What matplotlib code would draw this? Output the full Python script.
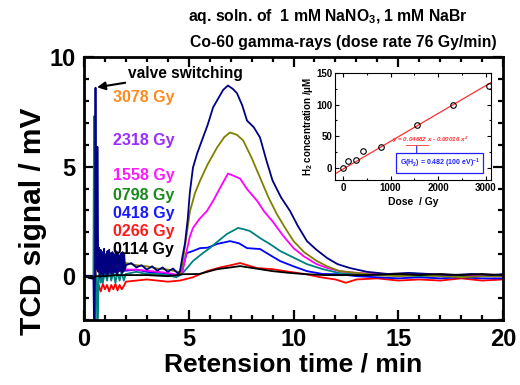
import matplotlib
matplotlib.use('Agg')
import matplotlib.pyplot as plt
from matplotlib.ticker import MultipleLocator

plt.rcParams['font.family'] = ['Liberation Sans', 'DejaVu Sans']
plt.rcParams['font.weight'] = 'bold'
plt.rcParams['mathtext.default'] = 'regular'

# chromatograms (time / min, TCD signal / mV)
t_3078 = [0, 0.3, 0.45, 0.48, 0.52, 0.55, 0.58, 0.62, 0.64, 0.68,
          0.72, 0.76, 0.80, 0.84, 0.88, 0.92, 0.96, 1.00, 1.04, 1.08, 1.12,
          1.16, 1.20, 1.24, 1.28, 1.32, 1.36, 1.40, 1.44, 1.48, 1.52, 1.56,
          1.60, 1.64, 1.68, 1.72, 1.76, 1.80, 1.84, 1.88, 1.92, 1.96,
          2.0, 2.25, 2.5, 2.75, 3.0, 3.25, 3.5, 3.75, 4.0, 4.25, 4.5, 4.58,
          4.7, 4.82, 4.95, 5.05, 5.2, 5.4, 5.68, 5.9, 6.16, 6.4, 6.64, 6.87,
          7.1, 7.3, 7.55, 7.78, 8.1, 8.4, 8.7, 9.0, 9.4, 9.83, 10.2, 10.64,
          11.1, 11.6, 12.1, 12.7, 13.5, 14.5, 15.5, 16.5, 17.5, 18.5, 19.5, 20]
y_3078 = [0.05, -0.1, 0.0, -2.2, -2.2, 8.6, 0.5, 0.3, 5.9, 0.2,
          1.3, -0.05, 1.2, 0.1, 1.1, 0.0, 1.25, 0.15, 1.0, 0.05, 1.15,
          0.1, 1.2, 0.2, 1.05, 0.1, 1.1, 0.15, 1.0, 0.2, 1.15, 0.1,
          1.1, 0.2, 0.95, 0.25, 1.05, 0.15, 1.1, 0.2, 1.0, 0.3,
          0.5, 0.6, 0.4, 0.5, 0.3, 0.45, 0.25, 0.4, 0.2, 0.35, 0.1, 0.23,
          0.9, 1.5, 2.6, 3.8, 4.95, 5.6, 6.33, 6.9, 7.7, 8.1, 8.5, 8.7,
          8.55, 8.35, 7.8, 7.1, 6.8, 6.33, 5.3, 4.36, 3.6, 2.98, 2.3, 1.6,
          1.2, 0.83, 0.55, 0.37, 0.2, 0.1, 0.15, 0.1, 0.05, 0.1, 0.05, 0.1]

t_2318 = [0, 0.4, 0.55, 0.6, 0.65, 0.7, 0.8, 1.0, 1.2, 1.5, 1.8, 2.0, 2.5,
          3.0, 3.5, 4.0, 4.5, 4.6, 4.74, 4.9, 5.06, 5.3, 5.54, 5.9, 6.35,
          6.7, 6.97, 7.3, 7.6, 8.0, 8.4, 8.8, 9.2, 9.6, 10.0, 10.5, 11.1,
          11.6, 12.2, 13.0, 14, 15, 16, 17, 18, 19, 20]
y_2318 = [0, -0.1, 0, 2.1, 0.8, 1.0, 0.8, 0.9, 0.7, 0.8, 0.7, 0.6, 0.5,
          0.45, 0.35, 0.3, 0.2, 0.1, 0.83, 1.9, 2.98, 3.8, 4.36, 5.1, 5.87,
          6.35, 6.56, 6.45, 6.19, 5.4, 4.5, 3.6, 2.84, 2.2, 1.6, 1.1, 0.7,
          0.45, 0.23, 0.15, 0.05, 0.0, 0.05, 0.0, -0.05, 0.0, 0.0]

t_1558 = [0, 0.4, 0.55, 0.6, 0.65, 0.7, 0.75, 0.85, 1.0, 1.5, 2.0, 2.5,
          3.0, 3.5, 4.0, 4.5, 4.7, 4.9, 5.05, 5.2, 5.5, 5.87, 6.2, 6.5,
          6.87, 7.1, 7.45, 7.8, 8.26, 8.6, 9.0, 9.5, 10.0, 10.5, 11.1,
          11.6, 12.2, 13, 14, 16, 18, 20]
y_1558 = [0, -0.1, 0, 1.3, 0.9, 1.3, 0.5, 0.3, 0.2, 0.2, 0.3, 0.3,
          0.25, 0.2, 0.15, 0.05, 0.2, 1.15, 1.8, 2.2, 2.6, 2.98, 3.5, 4.04,
          4.68, 4.6, 4.45, 3.95, 3.44, 2.95, 2.5, 1.85, 1.28, 0.9, 0.55,
          0.38, 0.23, 0.15, 0.1, 0.05, 0.05, 0.05]

t_0798 = [0, 0.4, 0.45, 0.48, 0.52, 0.6, 0.63, 0.66, 0.7, 0.75, 0.8, 0.85,
          0.9, 1.0, 1.1, 1.2, 1.3, 1.4, 1.5, 1.6, 1.7, 1.8, 1.9, 2.0, 2.5,
          3.0, 3.5, 4.0, 4.4, 4.66, 4.9, 5.2, 5.6, 6.0, 6.4, 6.83, 7.35,
          7.6, 7.92, 8.4, 8.9, 9.36, 10.0, 10.64, 11.4, 12.2, 13, 14, 15,
          16, 17, 18, 19, 20]
y_0798 = [0, -0.1, 0, 7.3, 0.2, 0.0, -2.2, -2.2, 0.0, 0.2, -0.3, 0.3,
          -0.3, 0.2, -0.2, 0.3, -0.2, 0.2, -0.3, 0.2, -0.2, 0.2, -0.2, 0.1, 0.2,
          0.1, 0.1, 0.05, -0.05, 0.09, 0.35, 0.69, 1.0, 1.28, 1.6, 1.93, 2.2,
          2.15, 2.06, 1.74, 1.45, 1.15, 0.85, 0.55, 0.32, 0.14, 0.1, 0.05, 0.05,
          0.0, 0.05, 0.0, 0.05, 0.0]

t_0418 = [0, 0.4, 0.55, 0.6, 0.65, 0.7, 0.8, 1.0, 1.5, 2.0, 2.5, 3.0, 3.5,
          4.0, 4.5, 4.7, 4.9, 5.2, 5.54, 5.9, 6.35, 6.97, 7.4, 7.78, 8.4,
          8.9, 9.36, 10.0, 10.64, 11.4, 12.2, 13, 14, 15, 16, 17, 18, 19, 20]
y_0418 = [0, -0.1, 0, 2.5, 0.6, 0.4, 0.3, 0.2, 0.3, 0.25, 0.3, 0.2, 0.15,
          0.1, 0.0, 0.3, 1.05, 1.15, 1.28, 1.3, 1.47, 1.6, 1.5, 1.28, 1.24,
          0.95, 0.69, 0.45, 0.23, 0.1, 0.09, 0.0, -0.05, -0.1, -0.05, -0.1,
          -0.05, -0.1, -0.1]

t_0266 = [0, 0.4, 0.55, 0.6, 0.65, 0.7, 0.8, 0.9, 1.0, 1.1, 1.2, 1.3, 1.4,
          1.5, 1.6, 1.7, 1.8, 1.9, 2.0, 2.5, 3.0, 3.5, 4.0, 4.58, 5.2, 5.87,
          6.5, 7.0, 7.45, 7.8, 8.26, 9.0, 9.8, 10.6, 11.3, 12.0, 12.5, 13.0,
          14, 15, 16, 17, 18, 19, 20]
y_0266 = [0, -0.1, 0, -0.3, -0.6, -0.4, -0.7, -0.35, -0.6, -0.4, -0.7,
          -0.4, -0.6, -0.35, -0.65, -0.4, -0.6, -0.45, -0.25, -0.2, -0.15,
          -0.2, -0.25, -0.2, -0.05, 0.23, 0.4, 0.5, 0.6, 0.5, 0.37, 0.32,
          0.2, 0.09, -0.05, -0.15, -0.3, -0.15, -0.1, -0.2, -0.15, -0.2,
          -0.1, -0.2, -0.15]

t_0114 = [0, 0.4, 0.6, 0.7, 1.0, 1.5, 2.0, 3.0, 4.0, 4.74, 5.5, 6.35, 7.0,
          7.45, 8.2, 9.0, 9.8, 10.6, 11.5, 12.5, 13.5, 15, 16, 17, 18, 19, 20]
y_0114 = [0, -0.1, 0.0, 0.0, 0.0, 0.05, 0.05, 0.05, 0.0, 0.09, 0.1, 0.32,
          0.4, 0.46, 0.35, 0.23, 0.15, 0.09, 0.05, 0.05, 0.05, 0.1, 0.05,
          0.1, 0.05, 0.1, 0.05]

dose_labels = ['3078 Gy', '2318 Gy', '1558 Gy', '0798 Gy', '0418 Gy',
               '0266 Gy', '0114 Gy']
label_colors = ['#ff8a1f', '#9a2cff', '#ff1aff', '#1a8a1a', '#1a1aff',
                '#ff1a1a', '#000000']
label_y = [8.17, 6.19, 4.59, 3.67, 2.84, 2.06, 1.24]

# inset: H2 concentration vs dose
dose = [0, 114, 266, 418, 798, 1558, 2318, 3078]
h2_conc = [0, 10, 12, 26, 32, 68, 100, 130]
fit_x = [-170, 3110]
fit_y = [-10, 135]

fig = plt.figure(figsize=(5.2, 3.85), dpi=100)
ax = fig.add_axes([0.1615, 0.1688, 0.806, 0.683])

curves = [
    (t_0266, y_0266, '#ff0000'),
    (t_0418, y_0418, '#0000ff'),
    (t_0798, y_0798, '#008080'),
    (t_1558, y_1558, '#ff00ff'),
    (t_2318, y_2318, '#808000'),
    (t_3078, y_3078, '#000080'),
    (t_0114, y_0114, '#000000'),
]
for t, y, c in curves:
    ax.plot(t, y, color=c, lw=1.3)

ax.set_xlim(0, 20)
ax.set_ylim(-2, 10)
ax.xaxis.set_major_locator(MultipleLocator(5))
ax.xaxis.set_minor_locator(MultipleLocator(1))
ax.yaxis.set_major_locator(MultipleLocator(5))
ax.yaxis.set_minor_locator(MultipleLocator(1))
ax.tick_params(which='both', direction='in', top=True, right=True,
               width=1.6, labelsize=17)
ax.tick_params(which='major', length=7, pad=6)
ax.tick_params(which='minor', length=3.5)
for s in ax.spines.values():
    s.set_linewidth(2)
for lab in ax.get_xticklabels() + ax.get_yticklabels():
    lab.set_fontweight('bold')
ax.set_xlabel('Retension time / min', fontsize=19, fontweight='bold',
              labelpad=1)
ax.set_ylabel('TCD signal / mV', fontsize=21.5, fontweight='bold',
              va='center')
ax.yaxis.set_label_coords(-0.122, 0.375)

for lab, c, yy in zip(dose_labels, label_colors, label_y):
    ax.text(1.38, yy, lab, color=c, fontsize=11.5, fontweight='bold',
            va='center', ha='left')

ax.annotate('valve switching', xy=(0.62, 8.62), xytext=(2.1, 9.27),
            fontsize=11.2, fontweight='bold', va='center', ha='left',
            arrowprops=dict(arrowstyle='-|>', color='black', lw=1.5,
                            mutation_scale=12, shrinkA=0, shrinkB=0))

fig.text(328 / 520, 1 - 17 / 385,
         'aq. soln. of  1 mM NaNO$_3$, 1 mM NaBr',
         ha='center', va='center', fontsize=11.3, fontweight='bold')
fig.text(343 / 520, 1 - 42 / 385,
         'Co-60 gamma-rays (dose rate 76 Gy/min)',
         ha='center', va='center', fontsize=11.3, fontweight='bold')

# inset
ins = fig.add_axes([0.644, 0.532, 0.3, 0.278])
ins.plot(fit_x, fit_y, color='#ff3030', lw=0.9)
ins.plot(dose, h2_conc, 'o', mfc='none', mec='black', ms=4, mew=0.8)
ins.set_xlim(-170, 3110)
ins.set_ylim(-20, 150)
ins.xaxis.set_major_locator(MultipleLocator(1000))
ins.yaxis.set_major_locator(MultipleLocator(50))
ins.yaxis.set_minor_locator(MultipleLocator(25))
ins.xaxis.set_minor_locator(MultipleLocator(500))
ins.tick_params(which='both', direction='in', labelsize=7, width=0.8,
                top=True, right=True, pad=2)
ins.tick_params(which='major', length=3)
ins.tick_params(which='minor', length=1.5)
for lab in ins.get_xticklabels() + ins.get_yticklabels():
    lab.set_fontweight('bold')
for s in ins.spines.values():
    s.set_linewidth(0.8)
ins.set_xlabel('Dose  / Gy', fontsize=7.5, fontweight='bold', labelpad=3)
ins.set_ylabel('H$_2$ concentration /\u03bcM', fontsize=7, fontweight='bold',
               labelpad=1)
ins.text(1840, 43.5, 'y = 0.04682 x - 0.00016 x$^2$', color='#ff3030',
         fontsize=4.5, ha='center', va='center', style='italic')
ins.plot([0.455, 0.596], [0.327, 0.327], transform=ins.transAxes,
         color='#ff3030', lw=0.6)
ins.annotate('', xy=(1550, 15), xytext=(1550, 34),
             arrowprops=dict(arrowstyle='-|>', color='#2020ff', lw=0.8,
                             mutation_scale=5, shrinkA=0, shrinkB=0))
ins.text(2030, 7, 'G(H$_2$) = 0.482 (100 eV)$^{-1}$', color='#2020ff',
         fontsize=5, ha='center', va='center',
         bbox=dict(boxstyle='square,pad=0.5', fc='white', ec='#2020ff',
                   lw=0.9))

fig.savefig('out.png', dpi=100)
